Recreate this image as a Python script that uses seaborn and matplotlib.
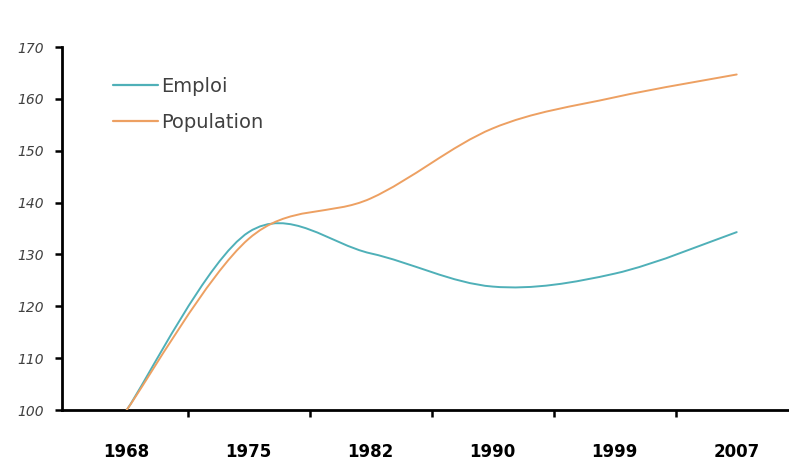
import numpy as np
import pandas as pd
import matplotlib
matplotlib.use("Agg")
import matplotlib.pyplot as plt
import seaborn as sns
from matplotlib.path import Path
from matplotlib.patches import PathPatch
from matplotlib.lines import Line2D

# Indices base 100 en 1968
annees = ["1968", "1975", "1982", "1990", "1999", "2007"]
emploi = [100, 134.3, 130.2, 123.8, 126.3, 134.3]
population = [100, 133.0, 140.8, 154.3, 160.3, 164.7]
series = ["Emploi", "Population"]
couleurs = {"Emploi": "#4fb0b8", "Population": "#eda062"}
graduations_y = [100, 110, 120, 130, 140, 150, 160, 170]

df = pd.DataFrame({
    "pos": list(range(len(annees))) * 2,
    "indice": emploi + population,
    "serie": ["Emploi"] * len(annees) + ["Population"] * len(annees),
})


def courbe_lissee(x, y, k=1 / 6):
    """Chemin de Bézier cubique passant par les points (lissage type Catmull-Rom)."""
    pts = np.column_stack([x, y]).astype(float)
    n = len(pts)
    verts = [pts[0]]
    codes = [Path.MOVETO]
    for i in range(n - 1):
        p0 = pts[i - 1] if i > 0 else pts[i]
        p1 = pts[i]
        p2 = pts[i + 1]
        p3 = pts[i + 2] if i + 2 < n else pts[i + 1]
        c1 = p1 + (p2 - p0) * k
        c2 = p2 - (p3 - p1) * k
        verts += [c1, c2, p2]
        codes += [Path.CURVE4] * 3
    return Path(verts, codes)


sns.set_theme(style="ticks")
plt.rcParams["font.family"] = ["DejaVu Sans"]

fig = plt.figure(figsize=(7.89, 4.61), dpi=100)
ax = fig.add_axes([62 / 789, 51 / 461, 735.7 / 789, 363 / 461])

sns.lineplot(data=df, x="pos", y="indice", hue="serie", hue_order=series,
             palette=couleurs, ax=ax, legend=False, linewidth=1.4)

# Remplacer chaque tracé par sa version lissée
for ligne in list(ax.lines):
    xs, ys = ligne.get_data()
    patch = PathPatch(courbe_lissee(xs, ys), facecolor="none",
                      edgecolor=ligne.get_color(), linewidth=1.4,
                      capstyle="round", joinstyle="round", zorder=3)
    ax.add_patch(patch)
    ligne.set_visible(False)

ax.set_xlim(-0.53, 5.5)
ax.set_ylim(100, 170)
ax.set_yticks(graduations_y)
ax.set_xticks(range(len(annees)))
ax.set_xticklabels(annees)
ax.set_xticks(np.arange(0.5, len(annees) - 1, 1), minor=True)
ax.set_xlabel("")
ax.set_ylabel("")

for cote in ["top", "right"]:
    ax.spines[cote].set_visible(False)
for cote in ["left", "bottom"]:
    ax.spines[cote].set_color("black")
    ax.spines[cote].set_linewidth(2)

ax.tick_params(axis="y", which="major", left=True, direction="out", length=5,
               width=1.8, color="black", pad=8, labelsize=10, labelcolor="#404040")
ax.tick_params(axis="x", which="major", bottom=True, length=0, pad=24,
               labelsize=12, labelcolor="black")
ax.tick_params(axis="x", which="minor", bottom=True, direction="out", length=5,
               width=1.8, color="black")
for lab in ax.get_yticklabels():
    lab.set_fontstyle("italic")
for lab in ax.get_xticklabels():
    lab.set_fontweight("bold")

poignees = [Line2D([], [], color=couleurs[s], linewidth=1.6) for s in series]
ax.legend(poignees, series, loc="upper left",
          bbox_to_anchor=(113 / 789, 1 - 77 / 461), bbox_transform=fig.transFigure,
          frameon=False, fontsize=14, handlelength=2.3, handletextpad=0.2,
          labelspacing=0.85, borderpad=0, borderaxespad=0, labelcolor="#404040")

fig.savefig("out.png", dpi=100)
